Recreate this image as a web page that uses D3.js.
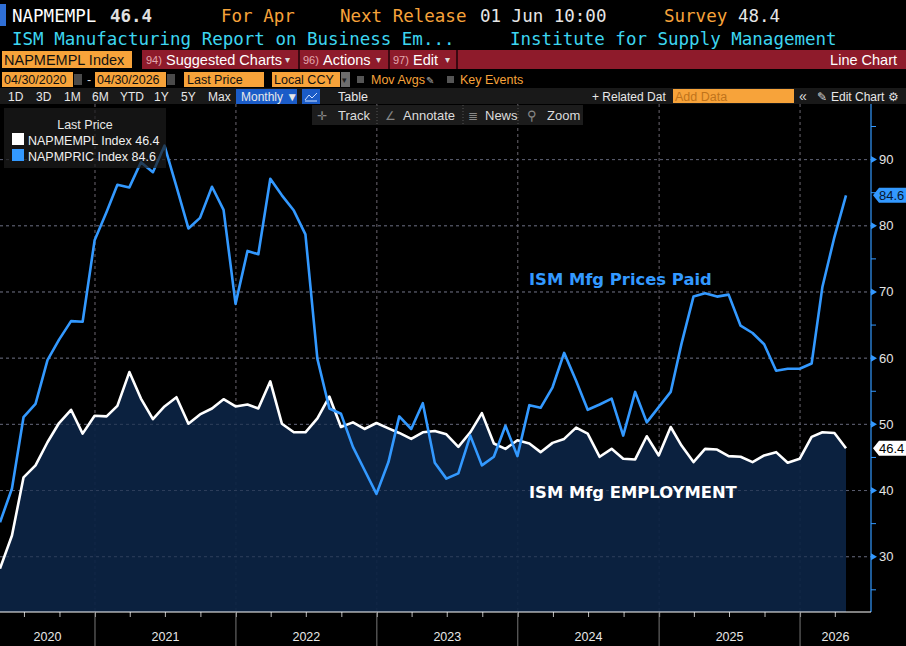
<!DOCTYPE html>
<html>
<head>
<meta charset="utf-8">
<script src="https://cdn.jsdelivr.net/npm/d3@7"></script>
<style>
body { margin: 0; background: #000; }
svg { display: block; }
</style>
</head>
<body>
<svg id="canvas" width="906" height="646"></svg>
<script>
// monthly ISM readings, Apr 2020 .. Apr 2026 (end of month)
var firstMonth = new Date(2020, 3, 1);
var lastMonth = new Date(2026, 3, 1);

var employment = [
	28.2, 33.2, 42.0, 43.8, 47.3, 50.2, 52.2, 48.6, 51.3,
	51.2, 52.8, 57.9, 53.9, 50.8, 52.7, 54.1, 50.1, 51.5, 52.4, 53.8, 52.7,
	53.0, 52.4, 56.5, 50.1, 48.8, 48.8, 50.9, 54.2, 49.6, 50.3, 49.3, 50.2,
	49.4, 48.7, 47.8, 48.8, 49.0, 48.5, 46.6, 48.8, 51.7, 47.1, 46.3, 47.6,
	47.1, 45.8, 47.2, 47.8, 49.5, 48.6, 45.1, 46.3, 44.8, 44.7, 48.2, 45.3,
	49.6, 46.8, 44.3, 46.3, 46.2, 45.2, 45.1, 44.3, 45.3, 45.8, 44.2, 44.8,
	48.1, 48.8, 48.7, 46.4
];

var pricesPaid = [
	35.2, 40.3, 51.1, 53.1, 59.7, 62.8, 65.6, 65.5, 77.8,
	82.1, 86.2, 85.8, 89.6, 88.1, 92.1, 85.9, 79.6, 81.2, 85.9, 82.4, 68.2,
	76.2, 75.7, 87.1, 84.6, 82.3, 78.7, 59.9, 52.4, 51.6, 46.6, 43.1, 39.5,
	44.3, 51.2, 49.3, 53.2, 44.2, 41.8, 42.6, 48.3, 43.8, 45.1, 49.8, 45.2,
	52.9, 52.5, 55.6, 60.8, 56.6, 52.2, 53.0, 53.9, 48.3, 54.9, 50.3, 52.6,
	54.9, 62.2, 69.3, 69.8, 69.3, 69.6, 64.9, 63.8, 62.1, 58.1, 58.4, 58.4,
	59.2, 70.8, 78.3, 84.6
];

var seriesNames = ['NAPMEMPL Index', 'NAPMPRIC Index'];
var seriesLabels = ['ISM Mfg EMPLOYMENT', 'ISM Mfg Prices Paid'];
var yTicks = [30, 40, 50, 60, 70, 80, 90];
var yMinorTicks = [25, 35, 45, 55, 65, 75, 85, 95];
var years = [2020, 2021, 2022, 2023, 2024, 2025, 2026];

var orange = '#f7a33a';
var blue = '#3399ff';
var cyan = '#3dd6f0';
var red = '#8e1b2b';
var uiFont = '"Liberation Sans", Arial, sans-serif';
var monoFont = '"DejaVu Sans Mono", monospace';

var months = d3.timeMonth.range(firstMonth, d3.timeMonth.offset(lastMonth, 1))
	.map(d => new Date(d.getFullYear(), d.getMonth() + 1, 0));

var rows = months.map((d, i) => ({ date: d, emp: employment[i], pri: pricesPaid[i] }));

var svg = d3.select('#canvas');
var plotLeft = 0, plotRight = 871, plotTop = 104, plotBottom = 612;

var x = d3.scaleTime()
	.domain([months[0], months[months.length - 1]])
	.range([0, 846]);
var y = d3.scaleLinear().domain([21.65, 98.4]).range([plotBottom, plotTop]);

function txt (g, px, py, s, fill, size, family, weight, anchor) {
	return g.append('text')
		.attr('x', px).attr('y', py)
		.attr('fill', fill)
		.style('font-family', family || uiFont)
		.style('font-size', size + 'px')
		.style('font-weight', weight || 'normal')
		.attr('text-anchor', anchor || 'start')
		.text(s);
}
function box (g, bx, by, w, h, fill) {
	return g.append('rect').attr('x', bx).attr('y', by).attr('width', w).attr('height', h).attr('fill', fill);
}

svg.append('rect').attr('width', 906).attr('height', 646).attr('fill', '#000');

// ---------- plot ----------
var plot = svg.append('g');

plot.selectAll('line.hgrid')
	.data(yTicks)
	.enter().append('line')
	.attr('class', 'hgrid')
	.attr('x1', plotLeft).attr('x2', plotRight)
	.attr('y1', d => y(d)).attr('y2', d => y(d))
	.attr('stroke', '#6b6670').attr('stroke-dasharray', '3,3');

plot.selectAll('line.vgrid')
	.data(years.slice(1))
	.enter().append('line')
	.attr('class', 'vgrid')
	.attr('x1', d => x(new Date(d, 0, 1))).attr('x2', d => x(new Date(d, 0, 1)))
	.attr('y1', plotTop).attr('y2', plotBottom)
	.attr('stroke', '#6b6670').attr('stroke-dasharray', '3,3');

var area = d3.area()
	.x(d => x(d.date))
	.y0(plotBottom)
	.y1(d => y(d.emp));
plot.append('path').attr('d', area(rows)).attr('fill', '#0c2344').attr('fill-opacity', 0.93);

// grid shows faintly through the fill
plot.selectAll('line.hgrid2')
	.data(yTicks)
	.enter().append('line')
	.attr('x1', plotLeft).attr('x2', plotRight)
	.attr('y1', d => y(d)).attr('y2', d => y(d))
	.attr('stroke', '#4a5570').attr('stroke-opacity', 0.5).attr('stroke-dasharray', '3,3');

var empLine = d3.line().x(d => x(d.date)).y(d => y(d.emp));
var priLine = d3.line().x(d => x(d.date)).y(d => y(d.pri));

plot.append('path').attr('d', empLine(rows))
	.attr('fill', 'none').attr('stroke', '#fff').attr('stroke-width', 2.6).attr('stroke-linejoin', 'round');
plot.append('path').attr('d', priLine(rows))
	.attr('fill', 'none').attr('stroke', blue).attr('stroke-width', 2.6).attr('stroke-linejoin', 'round');

txt(plot, 529, 285, seriesLabels[1], blue, 16.4, '"DejaVu Sans", sans-serif', 'bold');
txt(plot, 529, 498, seriesLabels[0], '#fff', 16.4, '"DejaVu Sans", sans-serif', 'bold');

// right axis
var axisG = svg.append('g');
axisG.append('line')
	.attr('x1', plotRight).attr('x2', plotRight)
	.attr('y1', plotTop).attr('y2', plotBottom)
	.attr('stroke', blue).attr('stroke-width', 1.2);
axisG.selectAll('path.tri')
	.data(yTicks)
	.enter().append('path')
	.attr('d', d => 'M' + plotRight + ',' + (y(d) - 3.5) + 'L' + (plotRight + 6) + ',' + y(d) + 'L' + plotRight + ',' + (y(d) + 3.5) + 'Z')
	.attr('fill', blue);
axisG.selectAll('line.minor')
	.data(yMinorTicks)
	.enter().append('line')
	.attr('x1', plotRight).attr('x2', plotRight + 5)
	.attr('y1', d => y(d)).attr('y2', d => y(d))
	.attr('stroke', blue);
axisG.selectAll('text.ylab')
	.data(yTicks)
	.enter().append('text')
	.attr('x', 879).attr('y', d => y(d) + 4.5)
	.attr('fill', '#e4e4e4')
	.style('font-family', uiFont).style('font-size', '13px')
	.text(d => d);

// last value flags
function flag (v, bg, fg) {
	var yy = y(v);
	axisG.append('path')
		.attr('d', 'M873,' + yy + 'L879,' + (yy - 7.5) + 'L906,' + (yy - 7.5) + 'L906,' + (yy + 7.5) + 'L879,' + (yy + 7.5) + 'Z')
		.attr('fill', bg);
	txt(axisG, 879, yy + 4.5, v.toFixed(1), fg, 13);
}
flag(pricesPaid[pricesPaid.length - 1], blue, '#08162e');
flag(employment[employment.length - 1], '#fff', '#000');

// bottom axis
var xAxisG = svg.append('g').attr('transform', 'translate(0,' + plotBottom + ')');
xAxisG.call(d3.axisBottom(x).ticks(d3.timeMonth.every(3)).tickSize(5).tickFormat(''));
xAxisG.select('.domain').remove();
xAxisG.selectAll('.tick line').attr('stroke', '#bbb');
xAxisG.append('line').attr('x1', 0).attr('x2', plotRight).attr('stroke', '#fff').attr('stroke-width', 1.2);
xAxisG.selectAll('line.ysep')
	.data(years.slice(1))
	.enter().append('line')
	.attr('x1', d => x(new Date(d, 0, 1))).attr('x2', d => x(new Date(d, 0, 1)))
	.attr('y1', 0).attr('y2', 34)
	.attr('stroke', '#777');
xAxisG.selectAll('text.yr')
	.data(years)
	.enter().append('text')
	.attr('x', d => (Math.max(0, x(new Date(d, 0, 1))) + Math.min(plotRight, x(new Date(d + 1, 0, 1)))) / 2)
	.attr('y', 29)
	.attr('text-anchor', 'middle')
	.attr('fill', '#e8e8e8')
	.style('font-family', uiFont).style('font-size', '12.5px')
	.text(d => d);

// legend
var leg = svg.append('g');
box(leg, 4, 108, 162, 60, 'rgba(28,28,28,0.72)');
txt(leg, 85, 129, 'Last Price', '#e8e8e8', 12.5, uiFont, 'normal', 'middle');
box(leg, 12, 133, 12, 12, '#fff');
txt(leg, 28, 144.5, seriesNames[0] + ' ' + employment[employment.length - 1].toFixed(1), '#f0f0f0', 12.5);
box(leg, 12, 149, 12, 12, blue);
txt(leg, 28, 160.5, seriesNames[1] + '  ' + pricesPaid[pricesPaid.length - 1].toFixed(1), '#f0f0f0', 12.5);

// ---------- header ----------
var hdr = svg.append('g');
box(hdr, 0, 0, 906, 104, '#000');
box(hdr, 0, 4, 6, 22, '#2f6fd6');
txt(hdr, 12, 22, 'NAPMEMPL', '#fff', 17.5, monoFont);
txt(hdr, 110, 22, '46.4', '#e0e0e0', 17.5, monoFont, 'bold');
txt(hdr, 221, 22, 'For Apr', orange, 17.5, monoFont);
txt(hdr, 340, 22, 'Next Release', orange, 17.5, monoFont);
txt(hdr, 480, 22, '01 Jun 10:00', '#e6e6e6', 17.5, monoFont);
txt(hdr, 664, 22, 'Survey', orange, 17.5, monoFont);
txt(hdr, 738, 22, '48.4', '#e6e6e6', 17.5, monoFont);
txt(hdr, 12, 45, 'ISM Manufacturing Report on Business Em...', cyan, 17.5, monoFont);
txt(hdr, 510, 45, 'Institute for Supply Management', cyan, 17.5, monoFont);

// menu bar
box(hdr, 2, 51, 130, 17, orange);
txt(hdr, 4, 64.5, 'NAPMEMPL Index', '#111', 14.5);
box(hdr, 142, 50, 764, 19, red);
[298, 388, 456].forEach(function (sx) { box(hdr, sx, 50, 2, 19, '#3a0810'); });
txt(hdr, 146, 63.5, '94)', '#e3a9b0', 11);
txt(hdr, 166, 64.5, 'Suggested Charts', '#fff', 14.5);
txt(hdr, 285, 63, '▾', '#ddd', 10);
txt(hdr, 303, 63.5, '96)', '#e3a9b0', 11);
txt(hdr, 323, 64.5, 'Actions', '#fff', 14.5);
txt(hdr, 376, 63, '▾', '#ddd', 10);
txt(hdr, 393, 63.5, '97)', '#e3a9b0', 11);
txt(hdr, 413, 64.5, 'Edit', '#fff', 14.5);
txt(hdr, 445, 63, '▾', '#ddd', 10);
txt(hdr, 897, 64.5, 'Line Chart', '#fff', 14.5, uiFont, 'normal', 'end');

// date / settings row
box(hdr, 2, 72, 71, 15, orange);
txt(hdr, 4, 84, '04/30/2020', '#111', 12.5);
box(hdr, 74, 74, 8, 11, '#4a4a4a');
txt(hdr, 87, 84, '-', '#ddd', 12.5);
box(hdr, 95, 72, 71, 15, orange);
txt(hdr, 97, 84, '04/30/2026', '#111', 12.5);
box(hdr, 167, 74, 8, 11, '#4a4a4a');
box(hdr, 184, 72, 80, 15, orange);
txt(hdr, 187, 84, 'Last Price', '#111', 12.5);
box(hdr, 272, 72, 68, 15, orange);
txt(hdr, 274, 84, 'Local CCY', '#111', 12.5);
box(hdr, 341, 72, 9, 15, '#6e6e6e');
txt(hdr, 342, 83, '▾', '#222', 9);
box(hdr, 357, 76, 7, 7, '#555');
txt(hdr, 371, 84, 'Mov Avgs', orange, 12.5);
txt(hdr, 426, 84, '✎', '#aaa', 10);
box(hdr, 447, 76, 7, 7, '#555');
txt(hdr, 460, 84, 'Key Events', orange, 12.5);

// range buttons row
box(hdr, 0, 88, 906, 16, '#191919');
[['1D', 8], ['3D', 36], ['1M', 64], ['6M', 92], ['YTD', 120], ['1Y', 154], ['5Y', 181], ['Max', 208]]
	.forEach(function (b) { txt(hdr, b[1], 100.5, b[0], '#e8e8e8', 12); });
box(hdr, 236, 89, 61, 15, '#1b5cc8');
txt(hdr, 241, 100.5, 'Monthly ▼', '#e8e8e8', 12);
box(hdr, 302, 89, 18, 15, '#1b5cc8');
hdr.append('path').attr('d', 'M305,100 L309,95 L312,98 L317,93 M305,101 L317,101')
	.attr('fill', 'none').attr('stroke', '#cfe0ff').attr('stroke-width', 1);
txt(hdr, 338, 100.5, 'Table', '#e8e8e8', 12.5);
txt(hdr, 592, 100.5, '+ Related Dat', '#e8e8e8', 12);
box(hdr, 673, 89, 121, 14, orange);
txt(hdr, 675, 100.5, 'Add Data', '#c0731a', 12.5);
txt(hdr, 799, 100.5, '«', '#ddd', 14);
txt(hdr, 817, 100.5, '✎', '#ddd', 12);
txt(hdr, 831, 100.5, 'Edit Chart', '#e8e8e8', 12);
txt(hdr, 888, 101, '⚙', '#ddd', 12);

// chart tool buttons
var tools = svg.append('g');
box(tools, 312, 105, 271, 20, '#1c1c1c');
[377, 463, 518].forEach(function (sx) {
	tools.append('line').attr('x1', sx).attr('x2', sx).attr('y1', 105).attr('y2', 125)
		.attr('stroke', '#555').attr('stroke-dasharray', '1,2');
});
txt(tools, 317, 119.5, '✛', '#888', 12);
txt(tools, 338, 119.5, 'Track', '#dcdcdc', 13);
txt(tools, 385, 119.5, '∠', '#888', 12);
txt(tools, 403, 119.5, 'Annotate', '#dcdcdc', 13);
txt(tools, 468, 119.5, '≣', '#888', 12);
txt(tools, 485, 119.5, 'News', '#dcdcdc', 13);
txt(tools, 527, 119.5, '⚲', '#888', 13);
txt(tools, 547, 119.5, 'Zoom', '#dcdcdc', 13);
</script>
</body>
</html>
